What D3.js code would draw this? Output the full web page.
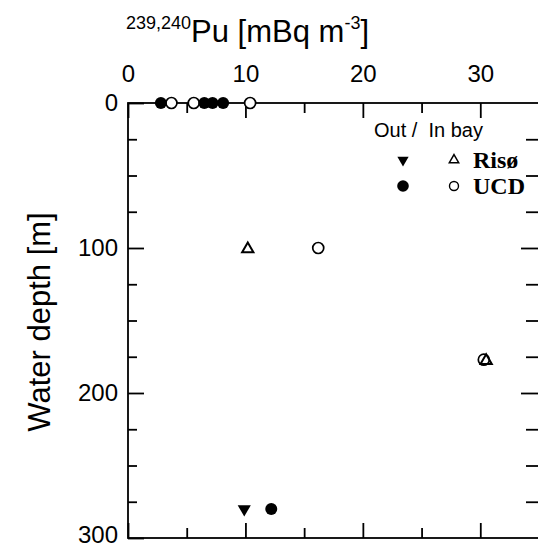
<!DOCTYPE html>
<html>
<head>
<meta charset="utf-8">
<script src="https://cdn.jsdelivr.net/npm/d3@7"></script>
<style>
  body { margin: 0; background: #fff; }
  svg { display: block; }
  text { fill: #000; }
</style>
</head>
<body>
<svg id="chart" width="538" height="548"></svg>
<script>
// 239,240Pu concentration (mBq m-3) vs water depth (m)
const outUcdConc  = [2.8, 6.5, 7.2, 8.1, 12.2];
const outUcdDepth = [0, 0, 0, 0, 280];
const outRisoConc  = [9.9];
const outRisoDepth = [280];
const inUcdConc  = [3.7, 5.6, 10.4, 16.2, 30.3];
const inUcdDepth = [0, 0, 0, 100, 177];
const inRisoConc  = [10.2, 30.5];
const inRisoDepth = [100, 177];

const xMajor = [0, 10, 20, 30];
const xMinor = [5, 15, 25, 35];
const yMajor = [0, 100, 200, 300];
const yMinor = [25, 50, 75, 125, 150, 175, 225, 250, 275];

const svg = d3.select("#chart");

const plot = {left: 128, right: 539, top: 103, bottom: 538};

const x = d3.scaleLinear().domain([0, 35]).range([plot.left, plot.right]);
const y = d3.scaleLinear().domain([0, 300]).range([plot.top, plot.bottom]);

const sans = "'Liberation Sans', Arial, Helvetica, sans-serif";
const serif = "'Liberation Serif', 'Times New Roman', serif";

// frame
svg.append("rect")
    .attr("x", plot.left).attr("y", plot.top)
    .attr("width", plot.right - plot.left).attr("height", plot.bottom - plot.top)
    .attr("fill", "none").attr("stroke", "#000").attr("stroke-width", 1.8);

function styleAxis(g) {
    g.select(".domain").remove();
    g.selectAll(".tick line").attr("stroke", "#000").attr("stroke-width", 1.8);
    g.selectAll(".tick text").style("font-family", sans).style("font-size", "24px");
}

// top axis with labels, ticks pointing inside
svg.append("g")
    .attr("transform", `translate(0,${plot.top})`)
    .call(d3.axisTop(x).tickValues(xMajor).tickSize(-15).tickPadding(21).tickFormat(d3.format("d")))
    .call(styleAxis);
svg.append("g")
    .attr("transform", `translate(0,${plot.top})`)
    .call(d3.axisTop(x).tickValues(xMinor).tickSize(-10).tickFormat(""))
    .call(styleAxis);

// bottom axis, ticks only
svg.append("g")
    .attr("transform", `translate(0,${plot.bottom})`)
    .call(d3.axisBottom(x).tickValues(xMajor).tickSize(-15).tickFormat(""))
    .call(styleAxis);
svg.append("g")
    .attr("transform", `translate(0,${plot.bottom})`)
    .call(d3.axisBottom(x).tickValues(xMinor).tickSize(-10).tickFormat(""))
    .call(styleAxis);

// left axis with labels
const yAx = svg.append("g")
    .attr("transform", `translate(${plot.left},0)`)
    .call(d3.axisLeft(y).tickValues(yMajor).tickSize(-16).tickPadding(10).tickFormat(d3.format("d")))
    .call(styleAxis);
// keep the bottom label inside the picture
yAx.selectAll(".tick text").filter(d => d === 300).attr("dy", "0.2em");
svg.append("g")
    .attr("transform", `translate(${plot.left},0)`)
    .call(d3.axisLeft(y).tickValues(yMinor).tickSize(-9).tickFormat(""))
    .call(styleAxis);

// right axis ticks
svg.append("g")
    .attr("transform", `translate(${plot.right},0)`)
    .call(d3.axisRight(y).tickValues(yMajor.slice(1, 3)).tickSize(-18).tickFormat(""))
    .call(styleAxis);
svg.append("g")
    .attr("transform", `translate(${plot.right},0)`)
    .call(d3.axisRight(y).tickValues(yMinor).tickSize(-13).tickFormat(""))
    .call(styleAxis);

// x title
const title = svg.append("text")
    .attr("x", 126).attr("y", 42)
    .style("font-family", sans).style("font-size", "31px");
title.append("tspan").text("239,240").style("font-size", "18px").attr("dy", "-13");
title.append("tspan").text("Pu [mBq m").attr("dy", "13");
title.append("tspan").text("-3").style("font-size", "18px").attr("dy", "-13");
title.append("tspan").text("]").attr("dy", "13");

// y title
svg.append("text")
    .attr("transform", "translate(50,322) rotate(-90)")
    .attr("text-anchor", "middle")
    .style("font-family", sans).style("font-size", "31px")
    .text("Water depth [m]");

// symbols
function zip(xs, ys) { return xs.map((v, i) => ({c: v, d: ys[i]})); }

const marks = svg.append("g");

marks.selectAll(".inUcd")
    .data(zip(inUcdConc, inUcdDepth))
    .join("circle")
    .attr("class", "inUcd")
    .attr("cx", d => x(d.c)).attr("cy", d => y(d.d)).attr("r", 5.5)
    .attr("fill", "#fff").attr("stroke", "#000").attr("stroke-width", 1.7);

marks.selectAll(".inRiso")
    .data(zip(inRisoConc, inRisoDepth))
    .join("path")
    .attr("class", "inRiso")
    .attr("d", d3.symbol().type(d3.symbolTriangle).size(55))
    .attr("transform", d => `translate(${x(d.c)},${y(d.d) + 1})`)
    .attr("fill", "none").attr("stroke", "#000").attr("stroke-width", 2);

marks.selectAll(".outUcd")
    .data(zip(outUcdConc, outUcdDepth))
    .join("circle")
    .attr("class", "outUcd")
    .attr("cx", d => x(d.c)).attr("cy", d => y(d.d)).attr("r", 6)
    .attr("fill", "#000");

marks.selectAll(".outRiso")
    .data(zip(outRisoConc, outRisoDepth))
    .join("path")
    .attr("class", "outRiso")
    .attr("d", d3.symbol().type(d3.symbolTriangle).size(75))
    .attr("transform", d => `translate(${x(d.c)},${y(d.d)}) rotate(180)`)
    .attr("fill", "#000");

// legend
const lg = svg.append("g");
lg.append("text").attr("x", 374).attr("y", 137)
    .style("font-family", sans).style("font-size", "20px")
    .style("white-space", "pre")
    .text("Out /  In bay");
lg.append("path").attr("d", d3.symbol().type(d3.symbolTriangle).size(55))
    .attr("transform", "translate(403,160) rotate(180)").attr("fill", "#000");
lg.append("path").attr("d", d3.symbol().type(d3.symbolTriangle).size(38))
    .attr("transform", "translate(454,160)")
    .attr("fill", "none").attr("stroke", "#000").attr("stroke-width", 1.5);
lg.append("circle").attr("cx", 403).attr("cy", 186).attr("r", 5.8).attr("fill", "#000");
lg.append("circle").attr("cx", 454).attr("cy", 186).attr("r", 4.5)
    .attr("fill", "none").attr("stroke", "#000").attr("stroke-width", 1.4);
lg.append("text").attr("x", 473).attr("y", 168)
    .style("font-family", serif).style("font-size", "24px").style("font-weight", "bold")
    .text("Risø");
lg.append("text").attr("x", 473).attr("y", 194)
    .style("font-family", serif).style("font-size", "24px").style("font-weight", "bold")
    .text("UCD");
</script>
</body>
</html>
